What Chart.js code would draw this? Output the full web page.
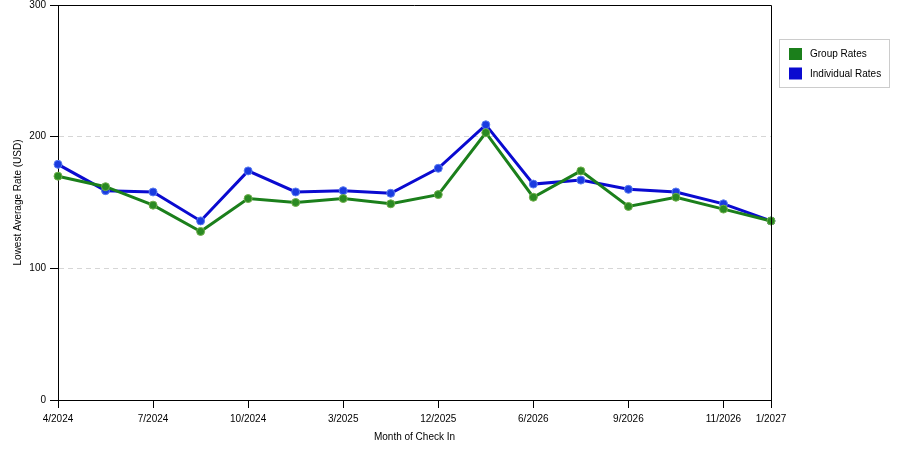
<!DOCTYPE html>
<html>
<head>
<meta charset="utf-8">
<script src="https://cdn.jsdelivr.net/npm/chart.js@4/dist/chart.umd.min.js"></script>
<style>
html,body{margin:0;padding:0;background:#fff;}
#wrap{width:900px;height:450px;position:relative;}
</style>
</head>
<body>
<div id="wrap"><canvas id="c" width="900" height="450"></canvas></div>
<script>
// Data
const categories = ['4/2024','','7/2024','','10/2024','','3/2025','','12/2025','','6/2026','','9/2026','','11/2026','1/2027'];
const groupRates = [170, 162, 148, 128, 153, 150, 153, 149, 156, 203, 154, 174, 147, 154, 145, 136];
const individualRates = [179, 159, 158, 136, 174, 158, 159, 157, 176, 209, 164, 167, 160, 158, 149, 136];
const yTicks = [0, 100, 200, 300];
const seriesNames = ['Group Rates', 'Individual Rates'];

const GREEN = '#1b7f1b';
const BLUE = '#0a0ad0';
const FONT = 'Liberation Sans, Arial, sans-serif';

const framePlugin = {
  id: 'frame',
  afterDatasetsDraw(chart) {
    const {ctx, chartArea: a} = chart;
    ctx.save();
    ctx.strokeStyle = '#000';
    ctx.lineWidth = 1;
    ctx.beginPath();
    ctx.moveTo(a.left, a.top + 0.5);
    ctx.lineTo(a.right + 0.5, a.top + 0.5);
    ctx.lineTo(a.right + 0.5, a.bottom);
    ctx.stroke();
    ctx.restore();
  }
};

const legendPlugin = {
  id: 'boxLegend',
  afterDraw(chart) {
    const ctx = chart.ctx;
    const x = 779.5, y = 39.5, w = 110, h = 48;
    ctx.save();
    ctx.strokeStyle = '#cccccc';
    ctx.lineWidth = 1;
    ctx.strokeRect(x, y, w, h);
    ctx.font = '10px ' + FONT;
    ctx.textBaseline = 'middle';
    ctx.textAlign = 'left';
    chart.data.datasets.forEach((ds, i) => {
      const sy = 48 + i * 19.5;
      ctx.fillStyle = ds.borderColor;
      ctx.fillRect(789, sy, 13, 12);
      ctx.fillStyle = '#000';
      ctx.fillText(ds.label, 810, sy + 6.5);
    });
    ctx.restore();
  }
};

new Chart(document.getElementById('c'), {
  type: 'line',
  data: {
    labels: categories,
    datasets: [
      {
        label: seriesNames[0],
        data: groupRates,
        borderColor: GREEN,
        backgroundColor: GREEN,
        borderWidth: 3,
        pointRadius: 4,
        pointBackgroundColor: '#2a8a22',
        pointBorderColor: '#6fae4a',
        pointBorderWidth: 1,
        tension: 0
      },
      {
        label: seriesNames[1],
        data: individualRates,
        borderColor: BLUE,
        backgroundColor: BLUE,
        borderWidth: 3,
        pointRadius: 4,
        pointBackgroundColor: '#1a3be0',
        pointBorderColor: '#5a7cf0',
        pointBorderWidth: 1,
        tension: 0
      }
    ]
  },
  options: {
    responsive: false,
    animation: false,
    devicePixelRatio: 1,
    layout: { padding: { top: 5, right: 129, left: 0, bottom: 0 } },
    plugins: {
      legend: { display: false },
      tooltip: { enabled: false }
    },
    scales: {
      x: {
        type: 'category',
        offset: false,
        afterFit(s) { s.height = 50; s.paddingLeft = 0; s.paddingRight = 0; },
        border: { display: true, color: '#000', width: 1 },
        grid: {
          drawOnChartArea: false,
          drawTicks: true,
          tickLength: 8,
          tickColor: (c) => (c.tick && c.tick.label) ? '#000' : 'rgba(0,0,0,0)',
          color: 'rgba(0,0,0,0)'
        },
        ticks: {
          autoSkip: false,
          maxRotation: 0,
          minRotation: 0,
          padding: 5,
          color: '#000',
          font: { family: FONT, size: 10 }
        },
        title: {
          display: true,
          text: 'Month of Check In',
          color: '#000',
          font: { family: FONT, size: 10 },
          padding: { top: 0, bottom: 7 }
        }
      },
      y: {
        min: 0,
        max: 300,
        afterFit(s) { s.width = 58; s.paddingTop = 0; s.paddingBottom = 0; },
        afterBuildTicks(s) { s.ticks = yTicks.map(v => ({ value: v })); },
        border: { display: true, color: '#000', width: 1, dash: [5, 4] },
        grid: {
          drawOnChartArea: true,
          drawTicks: true,
          tickLength: 8,
          tickColor: '#000',
          tickBorderDash: [],
          color: (c) => (c.tick && (c.tick.value === 0 || c.tick.value === 300)) ? 'rgba(0,0,0,0)' : '#d6d6d6'
        },
        ticks: {
          padding: 4,
          color: '#000',
          font: { family: FONT, size: 10 }
        },
        title: {
          display: true,
          text: 'Lowest Average Rate (USD)',
          color: '#000',
          font: { family: FONT, size: 10 },
          padding: { top: 12, bottom: 0 }
        }
      }
    }
  },
  plugins: [framePlugin, legendPlugin]
});
</script>
</body>
</html>
